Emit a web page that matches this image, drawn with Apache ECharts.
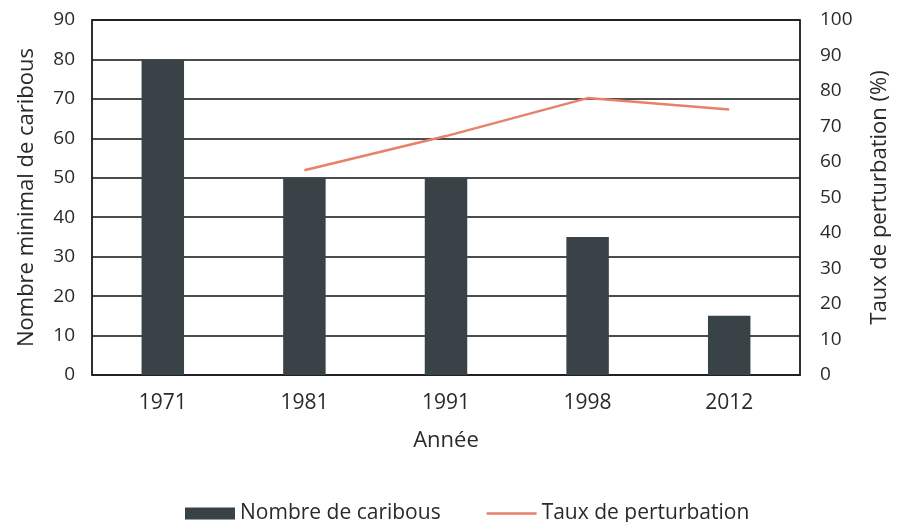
<!DOCTYPE html>
<html>
<head>
<meta charset="utf-8">
<script src="https://cdn.jsdelivr.net/npm/echarts@6/dist/echarts.min.js"></script>
<style>html,body{margin:0;padding:0;background:#fff}#c{width:899px;height:522px}</style>
</head>
<body>
<div id="c"></div>
<script>
const categories = ['1971', '1981', '1991', '1998', '2012'];
const caribous = [80, 50, 50, 35, 15];
const perturbation = [null, 57.7, 67.3, 78, 74.8];
const leftTicks = [0, 90, 10];
const rightTicks = [0, 100, 10];

const font = 'Open Sans';
const ink = '#2a2a2a';
const chart = echarts.init(document.getElementById('c'));
chart.setOption({
  animation: false,
  textStyle: { fontFamily: font },
  grid: { left: 92, right: 97, top: 20, bottom: 147, show: true, borderColor: '#222', borderWidth: 1.5 },
  legend: {
    top: 498, left: 180, itemGap: 46, itemWidth: 50, itemHeight: 12, itemTextGap: 5,
    textStyle: { fontFamily: font, fontSize: 21, color: ink },
    data: [
      { name: 'Nombre de caribous', icon: 'rect' },
      { name: 'Taux de perturbation', icon: 'path://M0,0 L50,0 L50,2.5 L0,2.5 Z' }
    ]
  },
  xAxis: {
    type: 'category', data: categories,
    name: 'Année', nameLocation: 'middle', nameGap: 55,
    nameTextStyle: { fontFamily: font, fontSize: 22, color: ink },
    axisLine: { lineStyle: { color: '#222', width: 1.5 } },
    axisTick: { show: false },
    axisLabel: { fontFamily: font, fontSize: 21, color: ink, margin: 18 }
  },
  yAxis: [
    {
      type: 'value', min: leftTicks[0], max: leftTicks[1], interval: leftTicks[2],
      name: 'Nombre minimal de caribous', nameLocation: 'middle', nameGap: 54,
      nameTextStyle: { fontFamily: font, fontSize: 22, color: ink },
      axisLine: { show: true, lineStyle: { color: '#222', width: 1.5 } },
      axisTick: { show: false },
      axisLabel: { fontFamily: font, fontSize: 19, color: ink, margin: 17 },
      splitLine: { lineStyle: { color: '#111', width: 1.5 } }
    },
    {
      type: 'value', min: rightTicks[0], max: rightTicks[1], interval: rightTicks[2],
      name: 'Taux de perturbation (%)', nameLocation: 'middle', nameGap: 69, nameRotate: 90,
      nameTextStyle: { fontFamily: font, fontSize: 22, color: ink },
      axisLine: { show: true, lineStyle: { color: '#222', width: 1.5 } },
      axisTick: { show: false },
      axisLabel: { fontFamily: font, fontSize: 19, color: ink, margin: 20 },
      splitLine: { show: false }
    }
  ],
  series: [
    {
      name: 'Nombre de caribous', type: 'bar', data: caribous, barWidth: '30%',
      itemStyle: { color: '#394347' }
    },
    {
      name: 'Taux de perturbation', type: 'line', yAxisIndex: 1, data: perturbation,
      symbol: 'none', lineStyle: { color: '#E8806A', width: 2.5 }, itemStyle: { color: '#E8806A' }
    }
  ]
});
</script>
</body>
</html>
